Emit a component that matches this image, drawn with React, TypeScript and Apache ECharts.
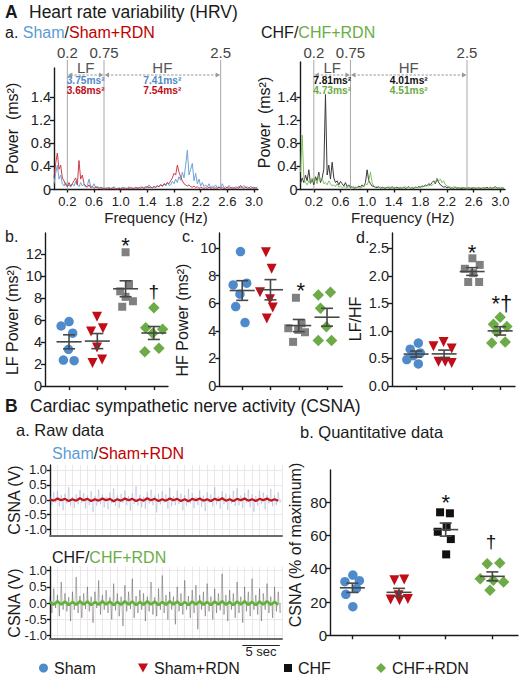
import React, { useEffect, useRef } from "react";
import * as echarts from "echarts";

const FONT = "'Liberation Sans', Arial, Helvetica, sans-serif";

/* ---------- A a. HRV power spectra (ms²), one value every 0.025 Hz from 0 Hz ---------- */
const FREQ_STEP = 0.025;
const shamSpectrum = [
  0.1, 0.28, 0.42, 0.18, 0.25, 0.1, 0.06, 0.12, 0.05, 0.08,
  0.04, 0.1, 0.06, 0.14, 0.08, 0.05, 0.12, 0.06, 0.09, 0.04,
  0.07, 0.18, 0.05, 0.04, 0.1, 0.03, 0.06, 0.02, 0.04, 0.03,
  0.02, 0.03, 0.01, 0.04, 0.02, 0.03, 0.05, 0.02, 0.01, 0.03,
  0.02, 0.04, 0.02, 0.03, 0.01, 0.05, 0.02, 0.03, 0.02, 0.04,
  0.03, 0.02, 0.05, 0.03, 0.02, 0.06, 0.03, 0.08, 0.04, 0.03,
  0.05, 0.03, 0.07, 0.04, 0.09, 0.05, 0.1, 0.06, 0.12, 0.07,
  0.08, 0.14, 0.1, 0.18, 0.12, 0.22, 0.16, 0.3, 0.2, 0.42,
  0.68, 0.25, 0.35, 0.45, 0.15, 0.28, 0.1, 0.18, 0.06, 0.12,
  0.05, 0.08, 0.04, 0.1, 0.03, 0.06, 0.04, 0.08, 0.03, 0.05,
  0.02, 0.1, 0.03, 0.05, 0.02, 0.07, 0.03, 0.04, 0.02, 0.05,
  0.03, 0.06, 0.02, 0.04, 0.07, 0.03, 0.05, 0.02, 0.06, 0.03,
  0.04, 0.02, 0.05,
];
const shamRdnSpectrum = [
  0.2, 0.45, 0.63, 0.35, 0.42, 0.2, 0.15, 0.08, 0.05, 0.12,
  0.06, 0.1, 0.15, 0.2, 0.08, 0.5, 0.18, 0.25, 0.1, 0.06,
  0.04, 0.08, 0.03, 0.05, 0.02, 0.04, 0.03, 0.02, 0.03, 0.02,
  0.02, 0.01, 0.03, 0.02, 0.01, 0.02, 0.03, 0.01, 0.02, 0.02,
  0.01, 0.02, 0.03, 0.01, 0.02, 0.02, 0.03, 0.02, 0.01, 0.03,
  0.02, 0.03, 0.02, 0.04, 0.02, 0.03, 0.05, 0.03, 0.04, 0.03,
  0.05, 0.04, 0.06, 0.05, 0.08, 0.06, 0.1, 0.08, 0.12, 0.1,
  0.15, 0.2, 0.28, 0.25, 0.42, 0.3, 0.22, 0.15, 0.1, 0.08,
  0.06, 0.08, 0.05, 0.04, 0.06, 0.03, 0.05, 0.02, 0.04, 0.03,
  0.02, 0.03, 0.02, 0.04, 0.02, 0.03, 0.02, 0.03, 0.02, 0.04,
  0.02, 0.03, 0.02, 0.02, 0.04, 0.02, 0.03, 0.02, 0.03, 0.02,
  0.03, 0.02, 0.07, 0.03, 0.02, 0.04, 0.02, 0.03, 0.02, 0.03,
  0.02, 0.03, 0.02,
];
const chfSpectrum = [
  0.1, 0.2, 0.12, 0.25, 0.15, 0.34, 0.1, 0.18, 0.08, 0.22,
  0.15, 0.3, 0.12, 0.2, 0.35, 1.64, 0.25, 0.42, 0.18, 0.47,
  0.2, 0.12, 0.15, 0.08, 0.14, 0.1, 0.06, 0.12, 0.05, 0.08,
  0.03, 0.05, 0.02, 0.04, 0.03, 0.06, 0.04, 0.08, 0.05, 0.12,
  0.34, 0.15, 0.1, 0.06, 0.05, 0.04, 0.03, 0.05, 0.02, 0.04,
  0.03, 0.02, 0.04, 0.03, 0.02, 0.05, 0.02, 0.03, 0.04, 0.02,
  0.03, 0.02, 0.04, 0.02, 0.03, 0.05, 0.02, 0.03, 0.02, 0.04,
  0.03, 0.05, 0.04, 0.06, 0.05, 0.08, 0.06, 0.1, 0.08, 0.12,
  0.15, 0.1, 0.18, 0.12, 0.08, 0.06, 0.04, 0.05, 0.03, 0.04,
  0.02, 0.03, 0.02, 0.04, 0.02, 0.03, 0.02, 0.02, 0.03, 0.02,
  0.02, 0.03, 0.02, 0.02, 0.03, 0.02, 0.02, 0.03, 0.02, 0.02,
  0.03, 0.02, 0.04, 0.02, 0.03, 0.02, 0.03, 0.05, 0.02, 0.03,
  0.02, 0.03, 0.02,
];
const chfRdnSpectrum = [
  0.3, 0.94, 0.2, 0.12, 0.08, 0.15, 0.1, 0.2, 0.12, 0.18,
  0.1, 0.25, 0.15, 0.2, 0.1, 0.12, 0.08, 0.15, 0.1, 0.06,
  0.08, 0.05, 0.1, 0.04, 0.06, 0.03, 0.05, 0.04, 0.03, 0.05,
  0.04, 0.03, 0.05, 0.02, 0.04, 0.03, 0.02, 0.04, 0.06, 0.1,
  0.08, 0.15, 0.3, 0.12, 0.06, 0.04, 0.05, 0.03, 0.04, 0.02,
  0.03, 0.04, 0.02, 0.05, 0.03, 0.02, 0.04, 0.03, 0.02, 0.03,
  0.04, 0.02, 0.03, 0.05, 0.03, 0.04, 0.02, 0.03, 0.04, 0.03,
  0.04, 0.03, 0.05, 0.04, 0.06, 0.05, 0.07, 0.06, 0.08, 0.07,
  0.1, 0.12, 0.2, 0.15, 0.18, 0.12, 0.15, 0.08, 0.06, 0.05,
  0.04, 0.03, 0.05, 0.03, 0.04, 0.02, 0.03, 0.04, 0.02, 0.03,
  0.02, 0.03, 0.02, 0.04, 0.02, 0.03, 0.02, 0.02, 0.03, 0.02,
  0.02, 0.03, 0.02, 0.02, 0.04, 0.02, 0.03, 0.02, 0.02, 0.03,
  0.02, 0.02, 0.03,
];
const hrvXTicks = [0.2, 0.6, 1.0, 1.4, 1.8, 2.2, 2.6, 3.0];
const hrvYTicks = [0, 0.4, 0.8, 1.2, 1.6];
const hrvYTickLabels = ["0", "0.4", "0.8", "1.2", "1.4"];
const bandEdges = [0.2, 0.75, 2.5];
const bandEdgeLabels = ["0.2", "0.75", "2.5"];
const bandNames = ["LF", "HF"];
const shamBandPower = [["3.75ms²", "3.68ms²"], ["7.41ms²", "7.54ms²"]];
const chfBandPower = [["7.81ms²", "4.73ms²"], ["4.01ms²", "4.51ms²"]];

/* ---------- A b. LF power (ms²) ---------- */
const lfSham = [5.45, 5.85, 4.8, 3.33, 2.36, 2.3];
const lfShamRdn = [6.3, 4.94, 5.24, 3.5, 2.1, 2.4];
const lfChf = [12.15, 9.25, 8.6, 8.1, 7.7, 7.2];
const lfChfRdn = [7.1, 5.3, 5.15, 4.8, 3.12, 3.43];
const lfJitter = [
  [-0.28, 0, 0.13, -0.02, -0.2, 0.18],
  [-0.01, -0.22, 0.2, -0.01, -0.17, 0.17],
  [0, 0.12, -0.19, 0, 0.26, -0.12],
  [0, -0.29, 0.31, -0.04, -0.32, 0.18],
];
const lfYTicks = [0, 2, 4, 6, 8, 10, 12];
const lfSigPos = [[3, 13.3], [4, 8.57]];
const lfSigText = ["*", "†"];

/* ---------- A c. HF power (ms²) ---------- */
const hfSham = [9.75, 7.33, 7.46, 6.66, 5.76, 4.6];
const hfShamRdn = [9.7, 8.5, 6.8, 6.3, 5.7, 4.9];
const hfChf = [6.4, 4.55, 4.19, 4.07, 3.9, 3.2];
const hfChfRdn = [6.6, 6.8, 5.64, 4.3, 3.3, 3.3];
const hfJitter = [
  [-0.06, -0.32, 0.16, -0.08, -0.23, 0.1],
  [-0.16, 0.04, -0.37, -0.02, 0.08, -0.13],
  [-0.1, 0.1, -0.37, -0.02, 0.22, -0.2],
  [-0.31, 0.12, -0.23, -0.02, -0.31, 0.16],
];
const hfYTicks = [0, 2, 4, 6, 8, 10];
const hfSigPos = [[3.07, 7.33]];
const hfSigText = ["*"];

/* ---------- A d. LF/HF ---------- */
const ratioSham = [0.78, 0.67, 0.6, 0.55, 0.48, 0.4];
const ratioShamRdn = [0.8, 0.72, 0.68, 0.44, 0.44, 0.42];
const ratioChf = [2.32, 2.2, 2.13, 2.05, 1.89, 1.89];
const ratioChfRdn = [1.25, 1.12, 1.08, 0.98, 0.78, 0.8];
const ratioJitter = [
  [0.08, -0.21, 0.15, -0.1, -0.33, 0.08],
  [-0.02, -0.38, 0.27, -0.2, 0.04, 0.27],
  [0.01, 0.27, -0.26, 0.04, -0.14, 0.25],
  [0, -0.24, 0.24, -0.12, -0.3, 0.18],
];
const ratioYTicks = [0, 0.5, 1.0, 1.5, 2.0, 2.5];
const ratioSigPos = [[3, 2.53], [4.06, 1.5]];
const ratioSigText = ["*", "*†"];

/* ---------- B a. raw CSNA (V); fast traces every 0.25 s, slow traces every 0.5 s ---------- */
const RAW_FAST_STEP = 0.25;
const RAW_SLOW_STEP = 0.5;
const rawSham = [
  0.12, -0.18, 0.25, -0.1, 0.3, -0.22, 0.15, -0.35, 0.2, -0.12,
  0.42, -0.2, 0.1, -0.28, 0.18, -0.15, 0.32, -0.1, 0.22, -0.3,
  0.14, -0.18, 0.28, -0.4, 0.12, -0.2, 0.35, -0.15, 0.18, -0.25,
  0.1, -0.32, 0.24, -0.12, 0.38, -0.2, 0.15, -0.28, 0.2, -0.1,
  0.3, -0.18, 0.12, -0.36, 0.22, -0.14, 0.45, -0.2, 0.16, -0.25,
  0.1, -0.3, 0.26, -0.12, 0.34, -0.18, 0.14, -0.42, 0.2, -0.15,
  0.28, -0.1, 0.18, -0.3, 0.4, -0.22, 0.12, -0.18, 0.3, -0.14,
  0.2, -0.35, 0.15, -0.2, 0.36, -0.12, 0.22, -0.28, 0.1, -0.18,
  0.32, -0.24, 0.14, -0.38, 0.25, -0.1, 0.18, -0.22, 0.42, -0.16,
  0.12, -0.3, 0.28, -0.15, 0.2, -0.34, 0.16, -0.12, 0.3, -0.2,
  0.38, -0.18, 0.14, -0.28, 0.22, -0.1, 0.34, -0.25, 0.18, -0.4,
  0.12, -0.2, 0.3, -0.15, 0.24, -0.32, 0.16, -0.12, 0.36, -0.22,
  0.15, -0.18, 0.25, -0.1,
];
const rawShamRdn = [
  0.02, -0.03, 0.04, -0.02, 0.03, -0.04, 0.02, -0.03, 0.05, -0.02,
  0.03, -0.04, 0.02, -0.03, 0.04, -0.02, 0.03, -0.05, 0.02, -0.03,
  0.04, -0.02, 0.03, -0.04, 0.02, -0.03, 0.05, -0.02, 0.03, -0.04,
  0.02, -0.03, 0.04, -0.02, 0.03, -0.04, 0.02, -0.05, 0.03, -0.02,
  0.04, -0.03, 0.02, -0.04, 0.03, -0.02, 0.05, -0.03, 0.02, -0.04,
  0.03, -0.02, 0.04, -0.03, 0.02, -0.04, 0.03, -0.02, 0.04, -0.03,
  0.02, -0.03,
];
const rawChf = [
  0.2, -0.3, 0.45, -0.15, 0.25, -0.4, 0.65, -0.2, 0.3, -0.25,
  0.18, -0.55, 0.35, -0.2, 0.8, -0.3, 0.22, -0.45, 0.3, -0.18,
  0.5, -0.25, 0.2, -0.6, 0.35, -0.15, 0.7, -0.35, 0.25, -0.2,
  0.4, -0.3, 0.18, -0.5, 0.6, -0.22, 0.3, -0.4, 0.2, -0.7,
  0.55, -0.25, 0.35, -0.18, 0.75, -0.45, 0.22, -0.3, 0.4, -0.2,
  0.3, -0.55, 0.2, -0.25, 0.65, -0.35, 0.18, -0.4, 0.45, -0.2,
  0.85, -0.3, 0.25, -0.5, 0.35, -0.2, 0.2, -0.65, 0.5, -0.25,
  0.3, -0.35, 0.7, -0.2, 0.22, -0.45, 0.4, -0.3, 0.55, -0.8,
  0.25, -0.2, 0.35, -0.4, 0.6, -0.25, 0.2, -0.5, 0.45, -0.3,
  0.3, -0.22, 0.9, -0.35, 0.25, -0.55, 0.4, -0.2, 0.3, -0.45,
  0.65, -0.3, 0.2, -0.6, 0.5, -0.25, 0.35, -0.4, 0.75, -0.2,
  0.25, -0.35, 0.45, -0.55, 0.3, -0.2, 0.6, -0.3, 0.2, -0.45,
  0.5, -0.25, 0.35, -0.3,
];
const rawChfRdn = [
  0.04, -0.05, 0.06, -0.04, 0.05, -0.06, 0.04, -0.05, 0.06, -0.04,
  0.05, -0.06, 0.04, -0.05, 0.06, -0.04, 0.05, -0.06, 0.04, -0.05,
  0.06, -0.04, 0.05, -0.06, 0.04, -0.05, 0.06, -0.04, 0.05, -0.06,
  0.04, -0.05, 0.06, -0.04, 0.05, -0.06, 0.04, -0.06, 0.05, -0.04,
  0.06, -0.05, 0.04, -0.06, 0.05, -0.04, 0.06, -0.05, 0.04, -0.06,
  0.05, -0.04, 0.06, -0.05, 0.04, -0.06, 0.05, -0.04, 0.06, -0.05,
  0.04, -0.05,
];
const rawYTicks = [-1, -0.5, 0, 0.5, 1];
const scaleBarSec = [25.7, 30.7];

/* ---------- B b. CSNA (% of maximum) ---------- */
const csnaSham = [36.2, 32.2, 32.8, 28.2, 24.6, 17.2];
const csnaShamRdn = [33, 33.5, 24, 21.5, 21, 21.8];
const csnaChf = [73.9, 73.3, 62.2, 65.2, 57.8, 48.6];
const csnaChfRdn = [43, 43.5, 34, 33, 32, 27];
const csnaJitter = [
  [0.01, -0.16, 0.15, 0.09, -0.14, 0.01],
  [-0.1, 0.11, -0.01, -0.18, 0.01, 0.19],
  [-0.12, 0.09, -0.17, 0.02, 0.11, 0.01],
  [-0.11, 0.16, -0.26, 0.02, 0.24, -0.05],
];
const csnaYTicks = [0, 20, 40, 60, 80];
const csnaSigPos = [[3, 83.2], [3.97, 56.2]];
const csnaSigText = ["*", "†"];

const groupNames = ["Sham", "Sham+RDN", "CHF", "CHF+RDN"];

/* ---------- styles ---------- */
const C_BLUE = "#4f8bcb";
const C_RED = "#c00d17";
const C_GRAY = "#808080";
const C_BLACK = "#111111";
const C_GREEN = "#6cab47";
const T_BLUE = "#5b9bd5";
const T_RED = "#c00000";
const T_GREEN = "#6aad45";
const AX = { color: "#1a1a1a", width: 1.4 };
const MARKERS = [
  { symbol: "circle", size: 9.5, rotate: 0 },
  { symbol: "triangle", size: 10, rotate: 180 },
  { symbol: "rect", size: 8, rotate: 0 },
  { symbol: "diamond", size: 11.5, rotate: 0 },
];

function meanSem(a: number[]) {
  const n = a.length;
  const m = a.reduce((s, v) => s + v, 0) / n;
  const sd = Math.sqrt(a.reduce((s, v) => s + (v - m) * (v - m), 0) / (n - 1));
  return [m, sd / Math.sqrt(n)];
}

function semRender(params: any, api: any) {
  const x = api.value(0), m = api.value(1), s = api.value(2);
  const c = api.coord([x, m]);
  const t = api.coord([x, m + s]);
  const b = api.coord([x, m - s]);
  const st = { stroke: "#474747", lineWidth: 1.6 };
  return {
    type: "group",
    children: [
      { type: "line", shape: { x1: c[0] - 12.5, y1: c[1], x2: c[0] + 12.5, y2: c[1] }, style: st },
      { type: "line", shape: { x1: c[0], y1: t[1], x2: c[0], y2: b[1] }, style: st },
      { type: "line", shape: { x1: c[0] - 6, y1: t[1], x2: c[0] + 6, y2: t[1] }, style: st },
      { type: "line", shape: { x1: c[0] - 6, y1: b[1], x2: c[0] + 6, y2: b[1] }, style: st },
    ],
  };
}

function sigRender(texts: string[]) {
  return (params: any, api: any) => {
    const p = api.coord([api.value(0), api.value(1)]);
    const t = texts[params.dataIndex];
    const fs = t === "†" ? 19 : 22;
    const dy = t === "*" ? fs * 0.25 : 0;
    return {
      type: "text",
      x: p[0],
      y: p[1] + dy,
      style: { text: t, fontSize: fs, fontFamily: FONT, fill: "#111", align: "center", verticalAlign: "middle" },
    };
  };
}

function dotPanel(ai: number, groups: number[][], jit: number[][], colors: string[], names: string[], sigPos: number[][], sigText: string[]) {
  const out: any[] = [];
  groups.forEach((vals, g) => {
    out.push({
      type: "scatter",
      name: names[g],
      xAxisIndex: ai,
      yAxisIndex: ai,
      symbol: MARKERS[g].symbol,
      symbolSize: MARKERS[g].size,
      symbolRotate: MARKERS[g].rotate,
      itemStyle: { color: colors[g], opacity: 1 },
      data: vals.map((v, i) => [g + 1 + jit[g][i], v]),
      z: 2,
      silent: true,
    });
  });
  out.push({
    type: "custom",
    xAxisIndex: ai,
    yAxisIndex: ai,
    renderItem: semRender,
    data: groups.map((vals, g) => {
      const [m, s] = meanSem(vals);
      return [g + 1, m, s];
    }),
    encode: { x: 0, y: 1 },
    clip: false,
    z: 5,
    silent: true,
  });
  out.push({
    type: "custom",
    xAxisIndex: ai,
    yAxisIndex: ai,
    renderItem: sigRender(sigText),
    data: sigPos,
    encode: { x: 0, y: 1 },
    clip: false,
    z: 5,
    silent: true,
  });
  return out;
}

function edgeRender(params: any, api: any) {
  const p = api.coord([api.value(0), 0]);
  const top = p[1] - 129.5;
  return {
    type: "group",
    children: [
      { type: "line", shape: { x1: p[0], y1: p[1], x2: p[0], y2: top }, style: { stroke: "#a8a8a8", lineWidth: 1 } },
      {
        type: "text",
        x: p[0],
        y: p[1] - 137.5,
        style: { text: bandEdgeLabels[params.dataIndex], fontSize: 15, fontFamily: FONT, fill: "#444", align: "center", verticalAlign: "middle" },
      },
    ],
  };
}

function bandRender(vals: string[][], colors: string[]) {
  return (params: any, api: any) => {
    const i = params.dataIndex;
    const a = api.coord([api.value(0), 0]);
    const b = api.coord([api.value(1), 0]);
    const base = a[1];
    const cx = (a[0] + b[0]) / 2;
    const ya = base - 114.5;
    const ac = "#9a9a9a";
    const txt = (t: string, y: number, fill: string, fs: number, bold: boolean) => ({
      type: "text",
      x: cx,
      y,
      style: { text: t, fontSize: fs, fontWeight: bold ? "bold" : "normal", fontFamily: FONT, fill, align: "center", verticalAlign: "middle" },
    });
    return {
      type: "group",
      children: [
        txt(bandNames[i], base - 122.5, "#555", 15, false),
        { type: "line", shape: { x1: a[0] + 3, y1: ya, x2: b[0] - 3, y2: ya }, style: { stroke: ac, lineWidth: 1.2, lineDash: [2.5, 1.5] } },
        { type: "polygon", shape: { points: [[a[0] + 0.5, ya], [a[0] + 5, ya - 2.5], [a[0] + 5, ya + 2.5]] }, style: { fill: ac } },
        { type: "polygon", shape: { points: [[b[0] - 0.5, ya], [b[0] - 5, ya - 2.5], [b[0] - 5, ya + 2.5]] }, style: { fill: ac } },
        txt(vals[i][0], base - 109, colors[0], 10.2, true),
        txt(vals[i][1], base - 98.6, colors[1], 10.2, true),
      ],
    };
  };
}

function hairRender(color: string, width: number, opacity: number) {
  return (params: any, api: any) => {
    const a = api.coord([api.value(0), 0]);
    const b = api.coord([api.value(0), api.value(1)]);
    return {
      type: "line",
      shape: { x1: a[0], y1: a[1], x2: b[0], y2: b[1] },
      style: { stroke: color, lineWidth: width, opacity },
    };
  };
}

function scaleBarRender(params: any, api: any) {
  const a = api.coord([api.value(0), -1.1]);
  const b = api.coord([api.value(1), -1.1]);
  const y = a[1] + 6.5;
  return {
    type: "group",
    children: [
      { type: "line", shape: { x1: a[0], y1: y, x2: b[0], y2: y }, style: { stroke: "#222", lineWidth: 1.2 } },
      { type: "text", x: (a[0] + b[0]) / 2, y: y + 6, style: { text: "5 sec", fontSize: 13, fontFamily: FONT, fill: "#222", align: "center", verticalAlign: "middle" } },
    ],
  };
}

const lbl = (fs: number) => ({ fontSize: fs, color: "#222", fontFamily: FONT });

function hrvX(gi: number, max: number) {
  return {
    type: "value", gridIndex: gi, min: 0, max,
    axisLine: { show: true, onZero: false, lineStyle: AX },
    axisTick: { show: true, customValues: hrvXTicks, length: 3, lineStyle: AX },
    axisLabel: { ...lbl(13), customValues: hrvXTicks, margin: 5, formatter: (v: number) => v.toFixed(1) },
    splitLine: { show: false },
    name: "Frequency (Hz)", nameLocation: "middle", nameGap: 20,
    nameTextStyle: lbl(15),
  };
}
function hrvY(gi: number, max: number) {
  return {
    type: "value", gridIndex: gi, min: 0, max,
    axisLine: { show: true, onZero: false, lineStyle: AX },
    axisTick: { show: true, customValues: hrvYTicks, length: 4, lineStyle: AX },
    axisLabel: {
      ...lbl(14.5), customValues: hrvYTicks, margin: 3,
      formatter: (v: number) => hrvYTickLabels[hrvYTicks.findIndex((t) => Math.abs(t - v) < 1e-6)] ?? "",
    },
    splitLine: { show: false },
  };
}
function catX(gi: number, min: number, max: number) {
  return {
    type: "value", gridIndex: gi, min, max,
    axisLine: { show: true, onZero: false, lineStyle: AX },
    axisTick: { show: true, customValues: [1, 2, 3, 4], length: 4, lineStyle: AX },
    axisLabel: { show: false },
    splitLine: { show: false },
  };
}
function valY(gi: number, max: number, ticks: number[], fs: number, digits: number) {
  return {
    type: "value", gridIndex: gi, min: 0, max,
    axisLine: { show: true, onZero: false, lineStyle: AX },
    axisTick: { show: true, customValues: ticks, length: 4, lineStyle: AX },
    axisLabel: { ...lbl(fs), customValues: ticks, margin: 3, formatter: (v: number) => v.toFixed(digits) },
    splitLine: { show: false },
  };
}
function rawX(gi: number) {
  return {
    type: "value", gridIndex: gi, min: 0, max: 31, interval: 1,
    axisLine: { show: true, onZero: false, lineStyle: { color: "#6b6b6b", width: 2 } },
    axisTick: { show: false },
    axisLabel: { show: false },
    splitLine: { show: true, lineStyle: { color: "#e4dde2", width: 0.7 } },
  };
}
function rawY(gi: number, min: number, max: number, interval: number) {
  return {
    type: "value", gridIndex: gi, min, max, interval,
    axisLine: { show: true, onZero: false, lineStyle: AX },
    axisTick: { show: true, customValues: rawYTicks, length: 3, lineStyle: AX },
    axisLabel: { ...lbl(13), customValues: rawYTicks, margin: 3, formatter: (v: number) => v.toFixed(1) },
    splitLine: { show: true, lineStyle: { color: "#e4dde2", width: 0.7 } },
  };
}

const spec = (arr: number[]) => arr.map((v, i) => [i * FREQ_STEP, v]);
const raw = (arr: number[], step: number) => arr.map((v, i) => [i * step, v]);

function gtext(x: number, y: number, text: string, fs: number, opts: any = {}) {
  const { rotate, bold, fill, rich, align } = opts;
  return {
    type: "text",
    x,
    y,
    rotation: rotate ? Math.PI / 2 : 0,
    style: {
      text,
      fontSize: fs,
      fontFamily: FONT,
      fontWeight: bold ? "bold" : "normal",
      fill: fill || "#1a1a1a",
      align: align || (rotate ? "center" : "left"),
      verticalAlign: "middle",
      rich,
    },
  };
}

const richTitle = (fs: number) => ({
  k: { fontSize: fs, fontFamily: FONT, fill: "#1a1a1a" },
  b: { fontSize: fs, fontFamily: FONT, fill: T_BLUE },
  r: { fontSize: fs, fontFamily: FONT, fill: T_RED },
  g: { fontSize: fs, fontFamily: FONT, fill: T_GREEN },
});

export default function App() {
  const ref = useRef<HTMLDivElement>(null);
  useEffect(() => {
    if (!ref.current) return;
    const chart = echarts.init(ref.current, undefined, { renderer: "svg" });
    const hrvColorsGray = [C_BLUE, C_RED, C_GRAY, C_GREEN];
    const csnaColors = [C_BLUE, C_RED, C_BLACK, C_GREEN];
    const rawSeries = (ai: number, name: string, arr: number[], step: number, color: string, width: number, opacity: number, hair: boolean, z: number) => {
      const s: any[] = [
        { type: "line", name, xAxisIndex: ai, yAxisIndex: ai, data: raw(arr, step), showSymbol: false, lineStyle: { color, width, opacity: hair ? opacity * 0.6 : opacity }, z, silent: true },
      ];
      if (hair) {
        s.push({ type: "custom", xAxisIndex: ai, yAxisIndex: ai, renderItem: hairRender(color, 0.7, opacity), data: raw(arr, step), encode: { x: 0, y: 1 }, z, silent: true });
      }
      return s;
    };
    const option: any = {
      animation: false,
      backgroundColor: "#ffffff",
      textStyle: { fontFamily: FONT },
      grid: [
        { left: 54, top: 68, width: 204, height: 121.5 },
        { left: 300.5, top: 62, width: 204.5, height: 127.5 },
        { left: 45, top: 233, width: 123, height: 153 },
        { left: 219.3, top: 233, width: 123, height: 153 },
        { left: 392, top: 233, width: 123, height: 153 },
        { left: 50, top: 465, width: 232, height: 70.7 },
        { left: 50, top: 566.7, width: 232, height: 72.3 },
        { left: 330, top: 470, width: 188, height: 165.3 },
      ].map((g) => ({ ...g, containLabel: false, outerBoundsMode: "none" })),
      xAxis: [
        hrvX(0, 3.06),
        hrvX(1, 3.07),
        catX(2, 0.15, 4.5),
        catX(3, 0.19, 4.54),
        catX(4, 0.14, 4.53),
        rawX(5),
        rawX(6),
        catX(7, 0.52, 4.55),
      ],
      yAxis: [
        hrvY(0, 2.1),
        hrvY(1, 2.2),
        valY(2, 13.9, lfYTicks, 14.5, 0),
        valY(3, 11.1, hfYTicks, 14.5, 0),
        valY(4, 2.78, ratioYTicks, 14.5, 1),
        rawY(5, -1.2, 1.16, 0.2),
        rawY(6, -1.1, 1.12, 0.22),
        valY(7, 99.3, csnaYTicks, 15, 0),
      ],
      legend: [
        { data: [{ name: "Sham", icon: "circle" }], left: 39, itemWidth: 9, itemHeight: 9 },
        { data: [{ name: "Sham+RDN", icon: "path://M0,0L10,0L5,9Z" }], left: 138, itemWidth: 10, itemHeight: 9 },
        { data: [{ name: "CHF", icon: "rect" }], left: 284, itemWidth: 8, itemHeight: 8 },
        { data: [{ name: "CHF+RDN", icon: "diamond" }], left: 376, itemWidth: 10, itemHeight: 10 },
      ].map((l) => ({
        ...l,
        top: 660,
        padding: 0,
        selectedMode: false,
        textStyle: { fontSize: 16, color: "#1a1a1a", fontFamily: FONT, padding: [0, 0, 0, 1] },
      })),
      series: [
        // HRV spectra
        { type: "custom", xAxisIndex: 0, yAxisIndex: 0, renderItem: edgeRender, data: bandEdges.map((v) => [v, 0]), encode: { x: 0, y: 1 }, clip: false, z: 1, silent: true },
        { type: "custom", xAxisIndex: 0, yAxisIndex: 0, renderItem: bandRender(shamBandPower, [C_BLUE, C_RED]), data: [[bandEdges[0], bandEdges[1]], [bandEdges[1], bandEdges[2]]], encode: { x: [0, 1] }, clip: false, z: 1, silent: true },
        { type: "line", name: "HRV Sham", xAxisIndex: 0, yAxisIndex: 0, data: spec(shamSpectrum), showSymbol: false, lineStyle: { color: "#6fa3d8", width: 1 }, itemStyle: { color: "#6fa3d8" }, z: 2, silent: true },
        { type: "line", name: "HRV Sham+RDN", xAxisIndex: 0, yAxisIndex: 0, data: spec(shamRdnSpectrum), showSymbol: false, lineStyle: { color: "#c52a35", width: 1, opacity: 0.9 }, itemStyle: { color: "#c52a35" }, z: 3, silent: true },
        { type: "custom", xAxisIndex: 1, yAxisIndex: 1, renderItem: edgeRender, data: bandEdges.map((v) => [v, 0]), encode: { x: 0, y: 1 }, clip: false, z: 1, silent: true },
        { type: "custom", xAxisIndex: 1, yAxisIndex: 1, renderItem: bandRender(chfBandPower, [C_BLACK, C_GREEN]), data: [[bandEdges[0], bandEdges[1]], [bandEdges[1], bandEdges[2]]], encode: { x: [0, 1] }, clip: false, z: 1, silent: true },
        { type: "line", name: "HRV CHF", xAxisIndex: 1, yAxisIndex: 1, data: spec(chfSpectrum), showSymbol: false, lineStyle: { color: "#3a3a3a", width: 1 }, itemStyle: { color: "#3a3a3a" }, z: 2, silent: true },
        { type: "line", name: "HRV CHF+RDN", xAxisIndex: 1, yAxisIndex: 1, data: spec(chfRdnSpectrum), showSymbol: false, lineStyle: { color: "#78b855", width: 1, opacity: 0.9 }, itemStyle: { color: "#78b855" }, z: 3, silent: true },
        // dot panels
        ...dotPanel(2, [lfSham, lfShamRdn, lfChf, lfChfRdn], lfJitter, hrvColorsGray, groupNames.map((n) => "LF " + n), lfSigPos, lfSigText),
        ...dotPanel(3, [hfSham, hfShamRdn, hfChf, hfChfRdn], hfJitter, hrvColorsGray, groupNames.map((n) => "HF " + n), hfSigPos, hfSigText),
        ...dotPanel(4, [ratioSham, ratioShamRdn, ratioChf, ratioChfRdn], ratioJitter, hrvColorsGray, groupNames.map((n) => "Ratio " + n), ratioSigPos, ratioSigText),
        // raw CSNA
        ...rawSeries(5, "Raw Sham", rawSham, RAW_FAST_STEP, "#7f9acb", 0.5, 0.55, true, 2),
        ...rawSeries(5, "Raw Sham+RDN", rawShamRdn, RAW_SLOW_STEP, "#c4161c", 2.2, 1, false, 3),
        ...rawSeries(6, "Raw CHF", rawChf, RAW_FAST_STEP, "#2a2a2a", 0.5, 0.55, true, 2),
        ...rawSeries(6, "Raw CHF+RDN", rawChfRdn, RAW_SLOW_STEP, "#5fb233", 2.6, 1, false, 3),
        { type: "custom", xAxisIndex: 6, yAxisIndex: 6, renderItem: scaleBarRender, data: [scaleBarSec], encode: { x: [0, 1] }, clip: false, silent: true },
        // CSNA quantitative
        ...dotPanel(7, [csnaSham, csnaShamRdn, csnaChf, csnaChfRdn], csnaJitter, csnaColors, groupNames, csnaSigPos, csnaSigText),
      ],
      graphic: [
        gtext(5, 12, "A", 17.5, { bold: true }),
        gtext(29, 12, "Heart rate variability (HRV)", 17.5),
        gtext(5, 32, "{k|a. }{b|Sham}{k|/}{r|Sham+RDN}", 16, { rich: richTitle(16) }),
        gtext(261, 32, "{k|CHF/}{g|CHF+RDN}", 16, { rich: richTitle(16) }),
        gtext(12, 128.5, "Power  (ms²)", 16, { rotate: true }),
        gtext(264, 122.5, "Power  (ms²)", 16, { rotate: true }),
        gtext(5, 236, "b.", 16),
        gtext(182, 236, "c.", 16),
        gtext(356, 237, "d.", 16),
        gtext(12, 320, "LF Power (ms²)", 16, { rotate: true }),
        gtext(182, 320, "HF Power (ms²)", 16, { rotate: true }),
        gtext(355, 319, "LF/HF", 16, { rotate: true }),
        gtext(5, 406, "B", 17.5, { bold: true }),
        gtext(30, 406, "Cardiac sympathetic nerve activity (CSNA)", 17.5),
        gtext(16, 430, "a. Raw data", 16.5),
        gtext(300, 432, "b. Quantitative data", 16.5),
        gtext(52, 453, "{b|Sham}{k|/}{r|Sham+RDN}", 16, { rich: richTitle(16) }),
        gtext(52, 557, "{k|CHF/}{g|CHF+RDN}", 16, { rich: richTitle(16) }),
        gtext(14, 500, "CSNA (V)", 16, { rotate: true }),
        gtext(14, 603, "CSNA (V)", 16, { rotate: true }),
        gtext(295, 545, "CSNA (% of maximum)", 16, { rotate: true }),
      ],
    };
    chart.setOption(option);
    return () => chart.dispose();
  }, []);
  return (
    <div
      ref={ref}
      style={{ position: "absolute", left: 0, top: 0, width: "520px", height: "675px", background: "#fff" }}
    />
  );
}
